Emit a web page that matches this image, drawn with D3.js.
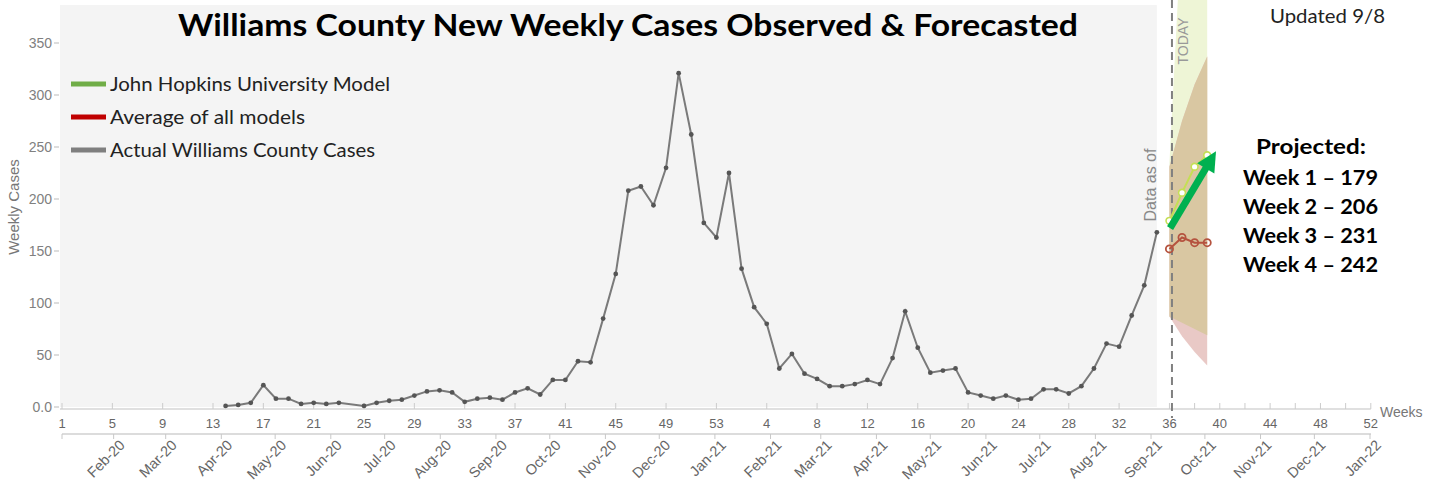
<!DOCTYPE html>
<html><head><meta charset="utf-8">
<script src="https://cdn.jsdelivr.net/npm/d3@7/dist/d3.min.js"></script>
<style>body{margin:0;background:#fff;} svg{display:block;}</style>
</head><body>
<svg id="c" width="1439" height="482"></svg>
<script>
// ---------------- data ----------------
// week index: 0 = 2020 week 1 ... 52 = 2020 week 53, 53 = 2021 week 1 ... 104 = 2021 week 52
const observedStartIndex = 13; // 2020 week 14
const observedCases = [1,2,4,21,8,8,3,4,3,4,null,1,4,6,7,11,15,16,14,5,8,9,7,14,18,12,26,26,44,43,85,128,208,212,194,230,321,262,177,163,
  225,133,96,80,37,51,32,27,20,20,22,26,22,47,92,57,33,35,37,14,11,8,11,7,8,17,17,13,20,37,61,58,88,117,168];
const forecastIndex = [88,89,90,91];
const jhuForecast = [179,206,231,242];
const ensembleForecast = [152,163,158,158];
const jhuLower = [87,81,75,69];
const jhuUpper = [235,470,560,640];
const ensembleLower = [87,68,53,40];
const ensembleUpper = [231,275,310,337];
const todayIndex = 88.2;
const arrowFrom = [88.05,172], arrowTo = [91.7,246];
const yTickValues = [0,50,100,150,200,250,300,350];
const yTickLabels = ["0.0","50","100","150","200","250","300","350"];
const weekTickIndex = d3.range(0,105,4);
const weekTickLabels = ["1","5","9","13","17","21","25","29","33","37","41","45","49","53","4","8","12","16","20","24","28","32","36","40","44","48","52"];
const monthLabels = ["Feb-20","Mar-20","Apr-20","May-20","Jun-20","Jul-20","Aug-20","Sep-20","Oct-20","Nov-20","Dec-20","Jan-21",
  "Feb-21","Mar-21","Apr-21","May-21","Jun-21","Jul-21","Aug-21","Sep-21","Oct-21","Nov-21","Dec-21","Jan-22"];
const legendItems = [
  {label:"John Hopkins University Model", color:"#70ad47"},
  {label:"Average of all models", color:"#c00000"},
  {label:"Actual Williams County Cases", color:"#7f7f7f"}];
const projectedLines = ["Week 1 \u2013 179","Week 2 \u2013 206","Week 3 \u2013 231","Week 4 \u2013 242"];

// ---------------- chart ----------------
const svg = d3.select("#c");
const x = d3.scaleLinear().domain([0,104]).range([62,1370.8]);
const y = d3.scaleLinear().domain([0,350]).range([407,43]);
const xDate = d3.scaleTime().domain([new Date(2020,0,1), new Date(2022,0,1)]).range([58,1370]);
const axisFont = "'Liberation Sans', Arial, sans-serif";
const textFont = "Lato, 'Open Sans', sans-serif";

// plot background
svg.append("rect").attr("x", x(-0.16)).attr("y", y(386.5))
  .attr("width", x(87) - x(-0.16)).attr("height", y(0) - y(386.5)).attr("fill", "#f4f4f4");

// forecast bands
const fc = forecastIndex.map((d,i)=>({i:d, jl:jhuLower[i], ju:jhuUpper[i], el:ensembleLower[i], eu:ensembleUpper[i]}));
const area = (lo, hi) => d3.area().x(d=>x(d.i)).y0(d=>y(lo(d))).y1(d=>y(hi(d)));
svg.append("path").datum(fc).attr("d", area(d=>d.jl, d=>d.ju)).attr("fill", "#eef5d6");
svg.append("path").datum(fc).attr("d", area(d=>d.el, d=>d.eu)).attr("fill", "#e9c9c6");
svg.append("path").datum(fc).attr("d", area(d=>Math.max(d.jl,d.el), d=>Math.min(d.ju,d.eu))).attr("fill", "#d9c7a2");

// y axis
const yg = svg.append("g");
yTickValues.forEach((v,i)=>{
  yg.append("line").attr("x1",54).attr("x2",59).attr("y1",y(v)).attr("y2",y(v)).attr("stroke","#bbb");
  yg.append("text").attr("x",52).attr("y",y(v)+5).attr("text-anchor","end")
    .attr("font-family",axisFont).attr("font-size",14).attr("fill","#808080").text(yTickLabels[i]);
});
svg.append("text").attr("transform",`translate(19,207) rotate(-90)`).attr("text-anchor","middle")
  .attr("font-family",axisFont).attr("font-size",15).attr("fill","#777").text("Weekly Cases");

// week axis
svg.append("line").attr("x1",60).attr("x2",x(104)).attr("y1",409).attr("y2",409).attr("stroke","#d6d6d6").attr("stroke-width",1.5);
weekTickIndex.forEach((d,i)=>{
  svg.append("line").attr("x1",x(d)).attr("x2",x(d)).attr("y1",403).attr("y2",409).attr("stroke","#ccc");
  svg.append("text").attr("x",x(d)).attr("y",428).attr("text-anchor","middle")
    .attr("font-family",axisFont).attr("font-size",13).attr("fill","#666").text(weekTickLabels[i]);
});
d3.range(88,105,2).filter(d=>d%4!==0).forEach(d=>{
  svg.append("line").attr("x1",x(d)).attr("x2",x(d)).attr("y1",403).attr("y2",409).attr("stroke","#ccc");
});
svg.append("text").attr("x",1380).attr("y",417).attr("font-family",axisFont).attr("font-size",14).attr("fill","#777").text("Weeks");

// month axis
svg.append("line").attr("x1",62).attr("x2",1371).attr("y1",434).attr("y2",434).attr("stroke","#d0d0d0").attr("stroke-width",1.5);
const monthDates = monthLabels.map((m,i)=>new Date(2020,1+i,1));
[new Date(2020,0,1), ...monthDates].forEach(d=>{
  const px = Math.max(62, xDate(d));
  svg.append("line").attr("x1",px).attr("x2",px).attr("y1",434).attr("y2",439).attr("stroke","#c8c8c8");
});
monthDates.forEach((d,i)=>{
  svg.append("text").attr("transform",`translate(${xDate(d)+12},446) rotate(-45)`).attr("text-anchor","end")
    .attr("font-family",axisFont).attr("font-size",14.5).attr("fill","#666").text(monthLabels[i]);
});

// observed line
const obs = observedCases.map((v,i)=>({i:observedStartIndex+i, v})).filter(d=>d.v!==null);
svg.append("path").datum(obs).attr("d", d3.line().x(d=>x(d.i)).y(d=>y(d.v)))
  .attr("fill","none").attr("stroke","#7a7a7a").attr("stroke-width",2);
svg.selectAll(".op").data(obs).enter().append("circle").attr("cx",d=>x(d.i)).attr("cy",d=>y(d.v)).attr("r",2.4).attr("fill","#555");

// today dashed line
svg.append("line").attr("x1",x(todayIndex)).attr("x2",x(todayIndex)).attr("y1",0).attr("y2",418)
  .attr("stroke","#808080").attr("stroke-width",2).attr("stroke-dasharray","8,5");
svg.append("text").attr("transform",`translate(1188,41) rotate(-90)`).attr("text-anchor","middle")
  .attr("font-family",axisFont).attr("font-size",14).attr("fill","#999").text("TODAY");
svg.append("text").attr("transform",`translate(1156,185) rotate(-90)`).attr("text-anchor","middle")
  .attr("font-family",axisFont).attr("font-size",16).attr("fill","#888").text("Data as of");

// forecasts
const jhu = forecastIndex.map((d,i)=>({i:d, v:jhuForecast[i]}));
const ens = forecastIndex.map((d,i)=>({i:d, v:ensembleForecast[i]}));
const ln = d3.line().x(d=>x(d.i)).y(d=>y(d.v));
svg.append("path").datum(ens).attr("d",ln).attr("fill","none").attr("stroke","#b5533f").attr("stroke-width",2);
svg.selectAll(".ep").data(ens).enter().append("circle").attr("cx",d=>x(d.i)).attr("cy",d=>y(d.v)).attr("r",3.6)
  .attr("fill","none").attr("stroke","#b5533f").attr("stroke-width",1.8);
svg.append("path").datum(jhu).attr("d",ln).attr("fill","none").attr("stroke","#c5df55").attr("stroke-width",2);
svg.selectAll(".jp").data(jhu).enter().append("circle").attr("cx",d=>x(d.i)).attr("cy",d=>y(d.v)).attr("r",3.4)
  .attr("fill","#fff").attr("stroke","#c5df55").attr("stroke-width",1.6);

// arrow
{
  const x0=x(arrowFrom[0]), y0=y(arrowFrom[1]), x1=x(arrowTo[0]), y1=y(arrowTo[1]);
  const L=Math.hypot(x1-x0,y1-y0), ux=(x1-x0)/L, uy=(y1-y0)/L, hl=20, hw=10;
  const bx=x1-ux*hl, by=y1-uy*hl;
  svg.append("line").attr("x1",x0).attr("y1",y0).attr("x2",bx+ux*2).attr("y2",by+uy*2).attr("stroke","#00b050").attr("stroke-width",7);
  svg.append("path").attr("d",`M${x1},${y1}L${bx-uy*hw},${by+ux*hw}L${bx+uy*hw},${by-ux*hw}Z`).attr("fill","#00b050");
}

// title
svg.append("text").attr("x",178).attr("y",36).attr("textLength",900).attr("lengthAdjust","spacingAndGlyphs")
  .attr("font-family",textFont).attr("font-weight","bold").attr("font-size",30).attr("fill","#000")
  .text("Williams County New Weekly Cases Observed & Forecasted");

// legend
const lw = [280,195,265];
legendItems.forEach((d,i)=>{
  const ly = 84 + i*33;
  svg.append("line").attr("x1",71).attr("x2",106).attr("y1",ly).attr("y2",ly).attr("stroke",d.color).attr("stroke-width",5);
  svg.append("text").attr("x",110).attr("y",ly+7).attr("textLength",lw[i]).attr("lengthAdjust","spacingAndGlyphs")
    .attr("font-family",textFont).attr("font-size",20).attr("fill","#222").text(d.label);
});

// annotations right
svg.append("text").attr("x",1270).attr("y",23).attr("textLength",115).attr("lengthAdjust","spacingAndGlyphs")
  .attr("font-family",textFont).attr("font-size",19).attr("fill","#222").text("Updated 9/8");
svg.append("text").attr("x",1256).attr("y",154).attr("textLength",110).attr("lengthAdjust","spacingAndGlyphs")
  .attr("font-family",textFont).attr("font-weight","bold").attr("font-size",21).attr("fill","#000").text("Projected:");
projectedLines.forEach((t,i)=>{
  svg.append("text").attr("x",1243).attr("y",185+i*29).attr("textLength",135).attr("lengthAdjust","spacingAndGlyphs")
    .attr("font-family",textFont).attr("font-weight","bold").attr("font-size",21).attr("fill","#000").text(t);
});
</script>
</body></html>
